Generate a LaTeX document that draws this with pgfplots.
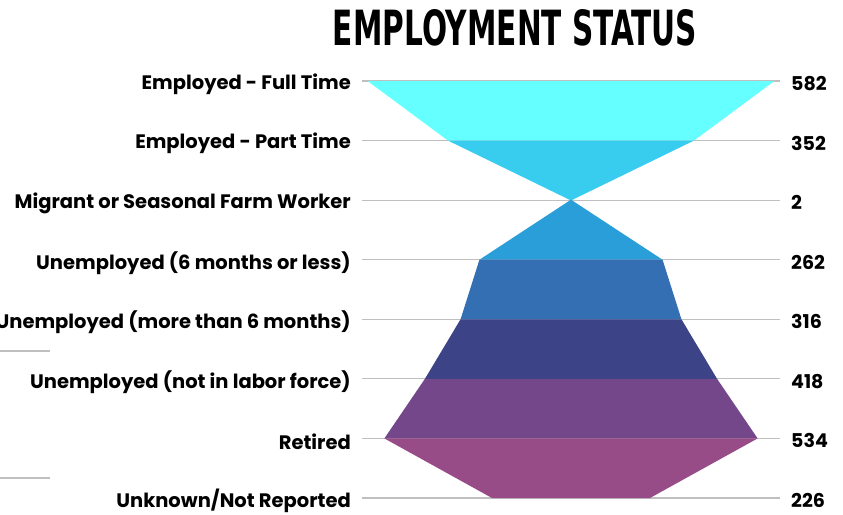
\documentclass[border=0pt]{standalone}
\usepackage{pgfplots}
\pgfplotsset{compat=1.18}
\usepackage{graphicx}
\usepackage{fontspec}
\setmainfont{Poppins}
\newfontfamily\titlefont{DejaVu Sans Condensed}[BoldFont={DejaVu Sans Condensed Bold}]
\definecolor{c1}{HTML}{66FFFF}
\definecolor{c2}{HTML}{38CDEE}
\definecolor{c3}{HTML}{2A9ED8}
\definecolor{c4}{HTML}{346FB4}
\definecolor{c5}{HTML}{3C4387}
\definecolor{c6}{HTML}{73478A}
\definecolor{c7}{HTML}{974C87}
\definecolor{gridc}{HTML}{BFBFBF}
\begin{document}
\begin{tikzpicture}[x=1pt,y=1pt]
\path[use as bounding box] (0,0) rectangle (843,514);
\clip (0,0) rectangle (843,514);
\node at (515,486) {\resizebox{364pt}{36pt}{\titlefont\bfseries EMPLOYMENT STATUS}};
\draw[gridc, line width=1.2pt] (0,163) -- (50,163);
\draw[gridc, line width=1.2pt] (0,36) -- (50,36);
\begin{axis}[
  at={(362pt,16pt)}, anchor=south west,
  width=418pt, height=417pt, scale only axis,
  xmin=-299, xmax=299, ymin=0, ymax=7, y dir=reverse,
  axis line style={draw=none}, tick style={draw=none},
  xtick=\empty, ytick={0,...,7}, yticklabels={},
  ymajorgrids, major grid style={gridc, line width=1.2pt},
  clip=false,
]
\addplot[fill=c1, draw=none] coordinates {(-291,0) (291,0) (176,1) (-176,1)} --cycle;
\addplot[fill=c2, draw=none] coordinates {(-176,1) (176,1) (1,2) (-1,2)} --cycle;
\addplot[fill=c3, draw=none] coordinates {(-1,2) (1,2) (131,3) (-131,3)} --cycle;
\addplot[fill=c4, draw=none] coordinates {(-131,3) (131,3) (158,4) (-158,4)} --cycle;
\addplot[fill=c5, draw=none] coordinates {(-158,4) (158,4) (209,5) (-209,5)} --cycle;
\addplot[fill=c6, draw=none] coordinates {(-209,5) (209,5) (267,6) (-267,6)} --cycle;
\addplot[fill=c7, draw=none] coordinates {(-267,6) (267,6) (113,7) (-113,7)} --cycle;
\foreach \lab [count=\i from 0] in {Employed - Full Time, Employed - Part Time, Migrant or Seasonal Farm Worker, Unemployed (6 months or less), Unemployed (more than 6 months), Unemployed (not in labor force), Retired, Unknown/Not Reported\hspace{6pt}}{
  \edef\temp{\noexpand\node[anchor=east, inner sep=0pt, font=\noexpand\fontsize{19.5}{22}\noexpand\selectfont\noexpand\bfseries, xshift=-11pt, yshift=-3pt] at (axis cs:-299,\i) {\unexpanded\expandafter{\lab}};}
  \temp
}
\foreach \v [count=\i from 0] in {582,352,2,262,316,418,534,226}{
  \edef\temp{\noexpand\node[anchor=west, inner sep=0pt, font=\noexpand\fontsize{19}{22}\noexpand\selectfont\noexpand\bfseries, xshift=11pt, yshift=-2.5pt] at (axis cs:299,\i) {\v};}
  \temp
}
\end{axis}
\end{tikzpicture}
\end{document}
